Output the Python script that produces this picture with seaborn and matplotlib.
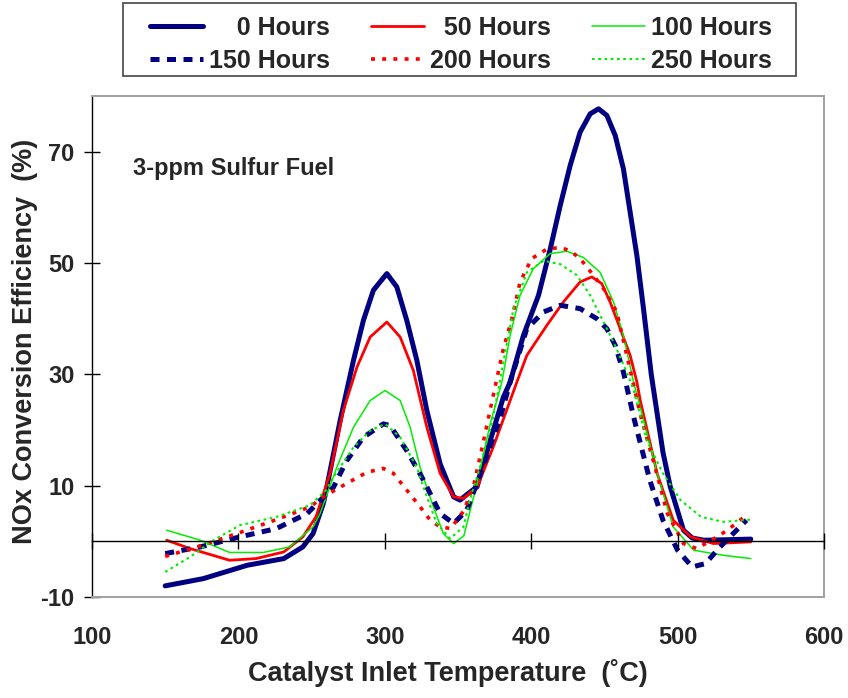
import matplotlib
matplotlib.use("Agg")
import matplotlib.pyplot as plt
from matplotlib.patches import Rectangle
import seaborn as sns
import pandas as pd

# ---- data ----
series_names = ["0 Hours", "50 Hours", "100 Hours", "150 Hours", "200 Hours", "250 Hours"]

h0_x = [150, 176, 206, 231, 244, 251, 258, 260, 269.5, 278.6, 285.4, 292.2, 301.4, 308.2, 315, 321.9, 328.7, 337.8,
        347, 351.4, 357, 363, 372, 381, 385.6, 394.7, 405, 413, 419.8, 426.6, 433.4, 440.3, 446, 451.7, 457.4, 463,
        467.6, 472.2, 476.7, 482, 486, 490, 495, 504, 510, 518, 535, 550]
h0_y = [-8, -6.7, -4.3, -3.1, -1.0, 1.4, 6.8, 9.2, 21.7, 32.5, 39.7, 45.1, 48.1, 45.7, 39.7, 32.5, 23.5, 13.9,
        8.0, 7.4, 8.6, 9.8, 18.1, 25.9, 28.6, 37, 44.2, 52.5, 60.3, 67.5, 73.5, 76.8, 77.7, 76.5, 72.9, 66.9,
        59.1, 51.3, 41.8, 30, 23, 16, 9.8, 2.0, 0.6, 0.2, 0.3, 0.4]

h50_x = [151, 167, 194, 212, 231, 244, 253, 262.6, 271.7, 281, 290, 301.4, 310.5, 319.5, 328.7, 337.8, 347, 353.7,
         363, 374, 390.2, 397, 410.7, 422, 433.4, 441.4, 448.2, 453.9, 460.8, 467.6, 472.2, 474.5, 486, 497, 509,
         524.5, 550]
h50_y = [0.2, -1.3, -3.4, -3.1, -1.9, 0.8, 4.4, 12.2, 23.5, 31.3, 36.7, 39.4, 36.7, 30.7, 20.5, 12.2, 8.0, 7.7,
         9.7, 16.9, 28.6, 33.4, 38.8, 43, 46.6, 47.5, 46.3, 43, 38.2, 33.4, 28.6, 25.3, 12.2, 3.8, 0.8,
         -0.4, -0.1]

h100_x = [151, 174, 194, 217, 235, 251, 255.8, 267.2, 278.6, 290, 300.2, 310.5, 317.3, 324.1, 333.2, 340, 347,
          354, 363, 372, 380, 385.6, 392.4, 401.5, 413, 424.4, 435.7, 447.1, 456.2, 463, 469.9, 474.5, 486, 497,
          511, 531, 550]
h100_y = [2.0, 0.2, -2.0, -2.0, -1.0, 2.6, 5.0, 13.3, 20.5, 25.3, 27.1, 25.3, 20.5, 13.3, 6.2, 1.4, -0.4,
          1.0, 10.4, 21.1, 28.6, 37, 44.2, 49, 51.7, 52.1, 51, 48.3, 43, 37, 28.6, 24.1, 12.2, 2.6,
          -1.6, -2.5, -3.1]

h150_x = [150, 174, 201, 226, 247, 256, 264.9, 274, 285.4, 299, 303.6, 315, 326.4, 337.8, 347, 356, 367, 379,
          385.6, 397, 408.4, 419.8, 433.4, 444.8, 451.7, 457.4, 463, 470, 481, 490, 500, 510, 519, 529, 538, 547]
h150_y = [-2.2, -1.0, 0.8, 2.3, 5.0, 7.4, 9.7, 14.5, 18.7, 21.1, 20.8, 16.3, 11, 5.0, 3.2, 5.6, 13.3, 22.3,
          28.6, 38.2, 41.2, 42.4, 41.8, 40, 38.2, 35.2, 30.4, 22.3, 11, 3.8, -1.6, -4.6, -4.0, -1.0, 1.4, 3.8]

h200_x = [150, 172, 199, 226, 249, 258, 274, 287.7, 299, 305.9, 315, 324.1, 331, 337.8, 345, 354, 361, 367,
          376.5, 381, 386.8, 392.4, 400.4, 410.7, 419.8, 426.6, 433.4, 442.5, 449.4, 458.5, 465.3, 475, 484, 493,
          504, 513, 525, 534, 547]
h200_y = [-2.7, -1.0, 1.4, 3.9, 6.2, 8.0, 10.4, 12.4, 13.1, 12.2, 9.2, 6.2, 3.8, 2.6, 2.3, 5.5, 10.4, 17.5,
          29.2, 34.6, 40, 46.6, 50.8, 52.5, 52.8, 52.2, 50.8, 47.8, 45.4, 41.2, 33.4, 22.3, 13.9, 5.0,
          -0.4, -1.3, 0.5, 2.0, 4.7]

h250_x = [150, 167, 183, 201, 226, 249, 260, 264.9, 278.6, 290, 300.2, 310.5, 321.9, 328.7, 335.5, 344.6, 353.7,
          358, 365, 374, 381, 387.9, 397, 408.4, 419.8, 431.2, 440.3, 449.4, 456.2, 465.3, 470, 479, 490, 502,
          516, 531, 550]
h250_y = [-5.5, -2.8, 0.2, 2.9, 4.4, 6.5, 9.2, 11.5, 16.9, 19.9, 21.1, 18.7, 13.3, 8.0, 3.2, 0.5, 2.6,
          7.4, 13.3, 22.3, 32.2, 41.8, 48.3, 50.4, 49.8, 47.8, 44.2, 39.4, 35.8, 30.4, 27.1, 18.1, 12.2, 7.4,
          4.4, 3.5, 3.9]

x_ticks = [100, 200, 300, 400, 500, 600]
y_ticks = [-10, 10, 30, 50, 70]

all_x = [h0_x, h50_x, h100_x, h150_x, h200_x, h250_x]
all_y = [h0_y, h50_y, h100_y, h150_y, h200_y, h250_y]

frames = []
for name, xs, ys in zip(series_names, all_x, all_y):
    frames.append(pd.DataFrame({"temp": xs, "eff": ys, "series": name}))
df = pd.concat(frames, ignore_index=True)

# ---- style ----
sns.set_theme(style="white")
plt.rcParams["font.family"] = ["Liberation Sans", "DejaVu Sans"]
plt.rcParams["font.weight"] = "bold"
plt.rcParams["lines.solid_joinstyle"] = "round"

palette = {"0 Hours": "#000080", "50 Hours": "#ff0000", "100 Hours": "#00ee00",
           "150 Hours": "#000080", "200 Hours": "#ff0000", "250 Hours": "#00ee00"}
sizes = {"0 Hours": 3.6, "50 Hours": 2.0, "100 Hours": 1.1,
         "150 Hours": 3.6, "200 Hours": 2.6, "250 Hours": 1.5}
dashes = {"0 Hours": "", "50 Hours": "", "100 Hours": "",
          "150 Hours": (1.8, 1.5), "200 Hours": (1.1, 2.0), "250 Hours": (1.3, 1.7)}

fig = plt.figure(figsize=(8.48, 6.98), dpi=100)
ax = fig.add_axes([92 / 848, 1 - 597 / 698, 732 / 848, 501 / 698])

sns.lineplot(data=df, x="temp", y="eff", hue="series", style="series", size="series",
             hue_order=series_names, style_order=series_names, size_order=series_names,
             palette=palette, sizes=sizes, dashes=dashes, estimator=None, sort=False,
             legend=False, ax=ax)

ax.set_xlim(100, 600)
ax.set_ylim(-10, 80)
ax.set_xticks(x_ticks)
ax.set_yticks(y_ticks)
ax.set_xticklabels([str(v) for v in x_ticks])
ax.set_yticklabels([str(v) for v in y_ticks])
ax.tick_params(axis="x", length=0, pad=21, labelsize=17)
ax.tick_params(axis="y", direction="inout", length=11, width=1, color="black", pad=7, labelsize=17, left=True)

for s in ["top", "right", "bottom"]:
    ax.spines[s].set_color("#a0a0a0")
    ax.spines[s].set_linewidth(1.4)
ax.spines["left"].set_color("black")
ax.spines["left"].set_linewidth(1.0)

# zero line with tick marks
sec = ax.secondary_xaxis(10 / 90)
sec.set_xticks(x_ticks)
sec.tick_params(axis="x", direction="inout", length=11.5, width=1, color="black", labelbottom=False)
sec.spines["bottom"].set_color("black")
sec.spines["bottom"].set_linewidth(1.0)
sec.set_zorder(5)

ax.set_xlabel("Catalyst Inlet Temperature  (\u02daC)", fontsize=19.5, fontweight="bold")
ax.set_ylabel("NOx Conversion Efficiency  (%)", fontsize=19.5, fontweight="bold")
ax.xaxis.set_label_coords(0.486, -0.124)
ax.xaxis.label.set_va("top")
ax.yaxis.set_label_coords(-0.074, 0.51)

ax.text(0.056, 0.842, "3-ppm Sulfur Fuel", transform=ax.transAxes, fontsize=17,
        fontweight="bold", ha="left", va="baseline")

# legend: rows 0/50/100 then 150/200/250
lines = ax.get_lines()[:6]
order = [0, 3, 1, 4, 2, 5]
handles = [lines[i] for i in order]
labels = [series_names[i].rjust(9, "\u2007") for i in order]
top = 1 - 16 / 698
leg = fig.legend(handles, labels, loc="upper left",
                 bbox_to_anchor=(150 / 848, top - 0.3, 622 / 848, 0.3),
                 ncol=3, mode="expand", fontsize=18, frameon=False,
                 handlelength=2.1, handletextpad=0.25, borderpad=0, labelspacing=0.35,
                 borderaxespad=0)
for t in leg.get_texts():
    t.set_fontweight("bold")

fig.patches.append(Rectangle((123 / 848, 1 - 76 / 698), 673 / 848, 73 / 698, transform=fig.transFigure,
                             fill=False, edgecolor="#444444", linewidth=1.2))

fig.savefig("out.png", dpi=100)
